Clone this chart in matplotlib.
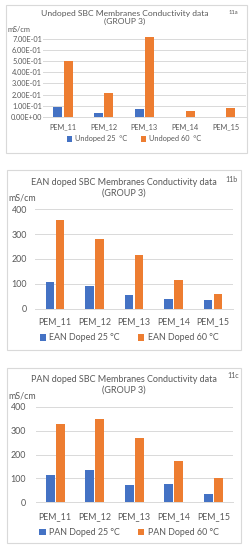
import numpy as np
import matplotlib
matplotlib.use("Agg")
import matplotlib.pyplot as plt
from matplotlib.patches import Rectangle

plt.rcParams["font.family"] = ["Lato", "DejaVu Sans"]

categories = ["PEM_11", "PEM_12", "PEM_13", "PEM_14", "PEM_15"]

undoped_25 = [0.084, 0.036, 0.069, 0.0, 0.0]
undoped_60 = [0.505, 0.21, 0.715, 0.054, 0.078]

ean_25 = [108, 92, 55, 40, 35]
ean_60 = [358, 282, 215, 117, 61]

pan_25 = [116, 135, 72, 77, 33]
pan_60 = [327, 347, 269, 174, 100]

BLUE = "#4472C4"
ORANGE = "#ED7D31"
TXT = "#595959"
GRID = "#D9D9D9"

W, H = 250, 550


def fx(x):
    return x / W


def fy(y):
    return 1 - y / H


def panel(fig, box, plot, vals25, vals60, ylim, yticks, yfmt, title, tag,
          names, fs, tfs, tag_xy, unit_xy, title_xy, cat_y, leg_y, leg_x, tick_right, colsp):
    # outer border
    x0, y0, x1, y1 = box
    fig.patches.append(Rectangle((fx(x0), fy(y1)), fx(x1) - fx(x0), fy(y0) - fy(y1),
                                 transform=fig.transFigure, fill=False,
                                 edgecolor=GRID, linewidth=0.8))
    px0, ptop, px1, pbot = plot
    ax = fig.add_axes([fx(px0), fy(pbot), fx(px1) - fx(px0), fy(ptop) - fy(pbot)])
    x = np.arange(len(categories))
    bw = 0.22
    ax.bar(x - 0.125, vals25, bw, color=BLUE, label=names[0], zorder=3, clip_on=False)
    ax.bar(x + 0.125, vals60, bw, color=ORANGE, label=names[1], zorder=3, clip_on=False)
    ax.set_xlim(-0.5, len(categories) - 0.5)
    ax.set_ylim(*ylim)
    ax.set_yticks(yticks)
    ax.set_yticklabels([yfmt(v) for v in yticks])
    ax.set_xticks(x)
    ax.set_xticklabels(categories)
    ax.grid(axis="y", color=GRID, linewidth=0.7, zorder=0)
    for s in ("top", "right", "left"):
        ax.spines[s].set_visible(False)
    ax.spines["bottom"].set_color(GRID)
    ax.spines["bottom"].set_linewidth(0.7)
    ax.tick_params(length=0, labelsize=fs, labelcolor=TXT)
    ax.tick_params(axis="y", pad=(px0 - tick_right) * 0.72)
    ax.tick_params(axis="x", pad=(cat_y - pbot - 4) * 0.72)

    fig.text(fx(title_xy[0]), fy(title_xy[1]), title, ha="center", va="top",
             fontsize=tfs, color=TXT, linespacing=1.2)
    fig.text(fx(tag_xy[0]), fy(tag_xy[1]), tag, ha="center", va="center",
             fontsize=fs * 0.8, color=TXT)
    fig.text(fx(unit_xy[0]), fy(unit_xy[1]), "mS/cm", ha="left", va="center",
             fontsize=fs, color=TXT)
    ax.legend(ncol=2, loc="center", bbox_to_anchor=(fx(leg_x), fy(leg_y)),
              bbox_transform=fig.transFigure, frameon=False, fontsize=fs,
              handlelength=0.7, handleheight=0.7, handletextpad=0.4,
              columnspacing=colsp, labelcolor=TXT, borderaxespad=0, borderpad=0)
    return ax


fig = plt.figure(figsize=(W / 100, H / 100), dpi=100)

panel(fig, (6, 5, 247, 153), (42.7, 36.8, 246, 116.7), undoped_25, undoped_60,
      (0, 0.72), np.arange(0, 0.71, 0.1), lambda v: f"{v:.2E}",
      "Undoped SBC Membranes Conductivity data\n(GROUP 3)", "11a",
      ["Undoped 25  °C", "Undoped 60  °C"], 5.3, 6.1, (233, 13), (7, 29), (125, 10), 127, 139, 134, 42, 1.8)

panel(fig, (7, 170, 241, 350), (35.3, 209.3, 232.8, 308.7), ean_25, ean_60,
      (0, 400), [0, 100, 200, 300, 400], lambda v: f"{v:.0f}",
      "EAN doped SBC Membranes Conductivity data\n(GROUP 3)", "11b",
      ["EAN Doped 25 °C", "EAN Doped 60 °C"], 6.4, 6.45, (232, 180), (8, 198), (124, 178), 321, 338, 129, 27, 2.0)

panel(fig, (7, 368, 241, 543), (35.5, 406.7, 233, 502.3), pan_25, pan_60,
      (0, 400), [0, 100, 200, 300, 400], lambda v: f"{v:.0f}",
      "PAN doped SBC Membranes Conductivity data\n(GROUP 3)", "11c",
      ["PAN Doped 25 °C", "PAN Doped 60 °C"], 6.4, 6.45, (233, 376), (8, 396), (124, 375), 515.7, 532.7, 129, 26, 2.0)

fig.savefig("out.png", dpi=100)
